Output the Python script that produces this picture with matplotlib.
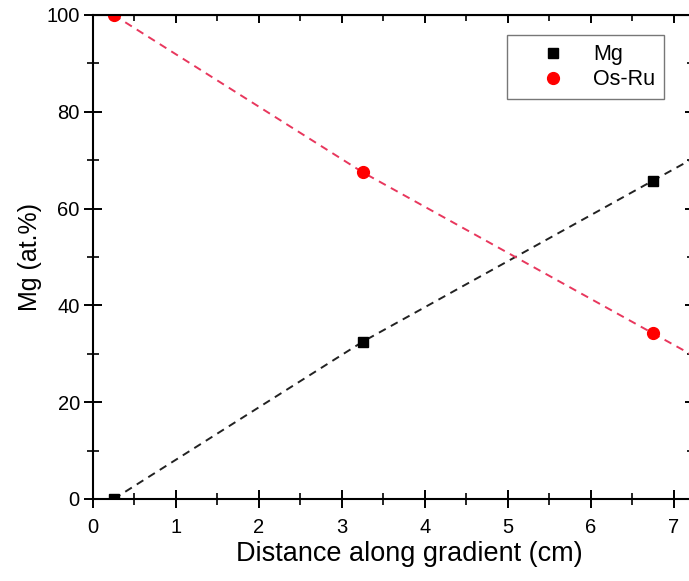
import numpy as np
import matplotlib
matplotlib.use('Agg')
from matplotlib import pyplot as plt
from matplotlib.ticker import MultipleLocator

plt.rcParams['font.family'] = ['Liberation Sans', 'DejaVu Sans']

# measured points
dist = [0.25, 3.25, 6.75]
mg = [0.0, 32.5, 65.8]
osru = [100.0, 67.5, 34.2]

# dashed guide lines (run on past the right edge)
guide_x = [0.25, 3.25, 6.75, 7.5]
mg_guide = [0.0, 32.5, 65.8, 72.9]
osru_guide = [100.0, 67.5, 34.2, 27.1]

fig = plt.figure(figsize=(6.89, 5.81), dpi=100)
ax = fig.add_axes([93/689, 82/581, 600/689, 484/581])

ax.plot(guide_x, mg_guide, color='#222222', lw=1.4, dashes=(4, 3))
ax.plot(guide_x, osru_guide, color='#e8375d', lw=1.4, dashes=(4, 3))
ax.plot(dist, mg, 's', color='black', ms=7.5, label='Mg')
ax.plot(dist, osru, 'o', color='red', ms=8.5, label='Os-Ru')

ax.set_xlim(0, 7.23)
ax.set_ylim(0, 100)
ax.xaxis.set_major_locator(MultipleLocator(1))
ax.xaxis.set_minor_locator(MultipleLocator(0.5))
ax.yaxis.set_major_locator(MultipleLocator(20))
ax.yaxis.set_minor_locator(MultipleLocator(10))
ax.tick_params(which='major', direction='inout', length=13, width=1.4,
               labelsize=14.5, pad=3)
ax.tick_params(axis='x', which='major', pad=7.5)
ax.tick_params(which='minor', direction='inout', length=8, width=1.2)
for s in ax.spines.values():
    s.set_linewidth(1.5)

top = ax.secondary_xaxis('top')
top.xaxis.set_major_locator(MultipleLocator(1))
top.xaxis.set_minor_locator(MultipleLocator(0.5))
top.tick_params(which='major', direction='in', length=6, width=1.4, labeltop=False)
top.tick_params(which='minor', direction='in', length=4, width=1.2)
right = ax.secondary_yaxis('right')
right.yaxis.set_major_locator(MultipleLocator(20))
right.yaxis.set_minor_locator(MultipleLocator(10))
right.tick_params(which='major', direction='in', length=6, width=1.4, labelright=False)
right.tick_params(which='minor', direction='in', length=4, width=1.2)

ax.set_xlabel('Distance along gradient (cm)', fontsize=19.5)
ax.xaxis.set_label_coords(0.528, -0.086)
ax.set_ylabel('Mg (at.%)', fontsize=18, labelpad=3)

leg = ax.legend(loc='upper right', bbox_to_anchor=(664/689, 1 - 35/581),
                bbox_transform=fig.transFigure, borderaxespad=0, fancybox=False,
                edgecolor='#555555', fontsize=15.5, handlelength=3.4,
                handletextpad=0.15, borderpad=0.42, labelspacing=0.2)
leg.get_frame().set_linewidth(1.0)

fig.savefig('out.png', dpi=100)
